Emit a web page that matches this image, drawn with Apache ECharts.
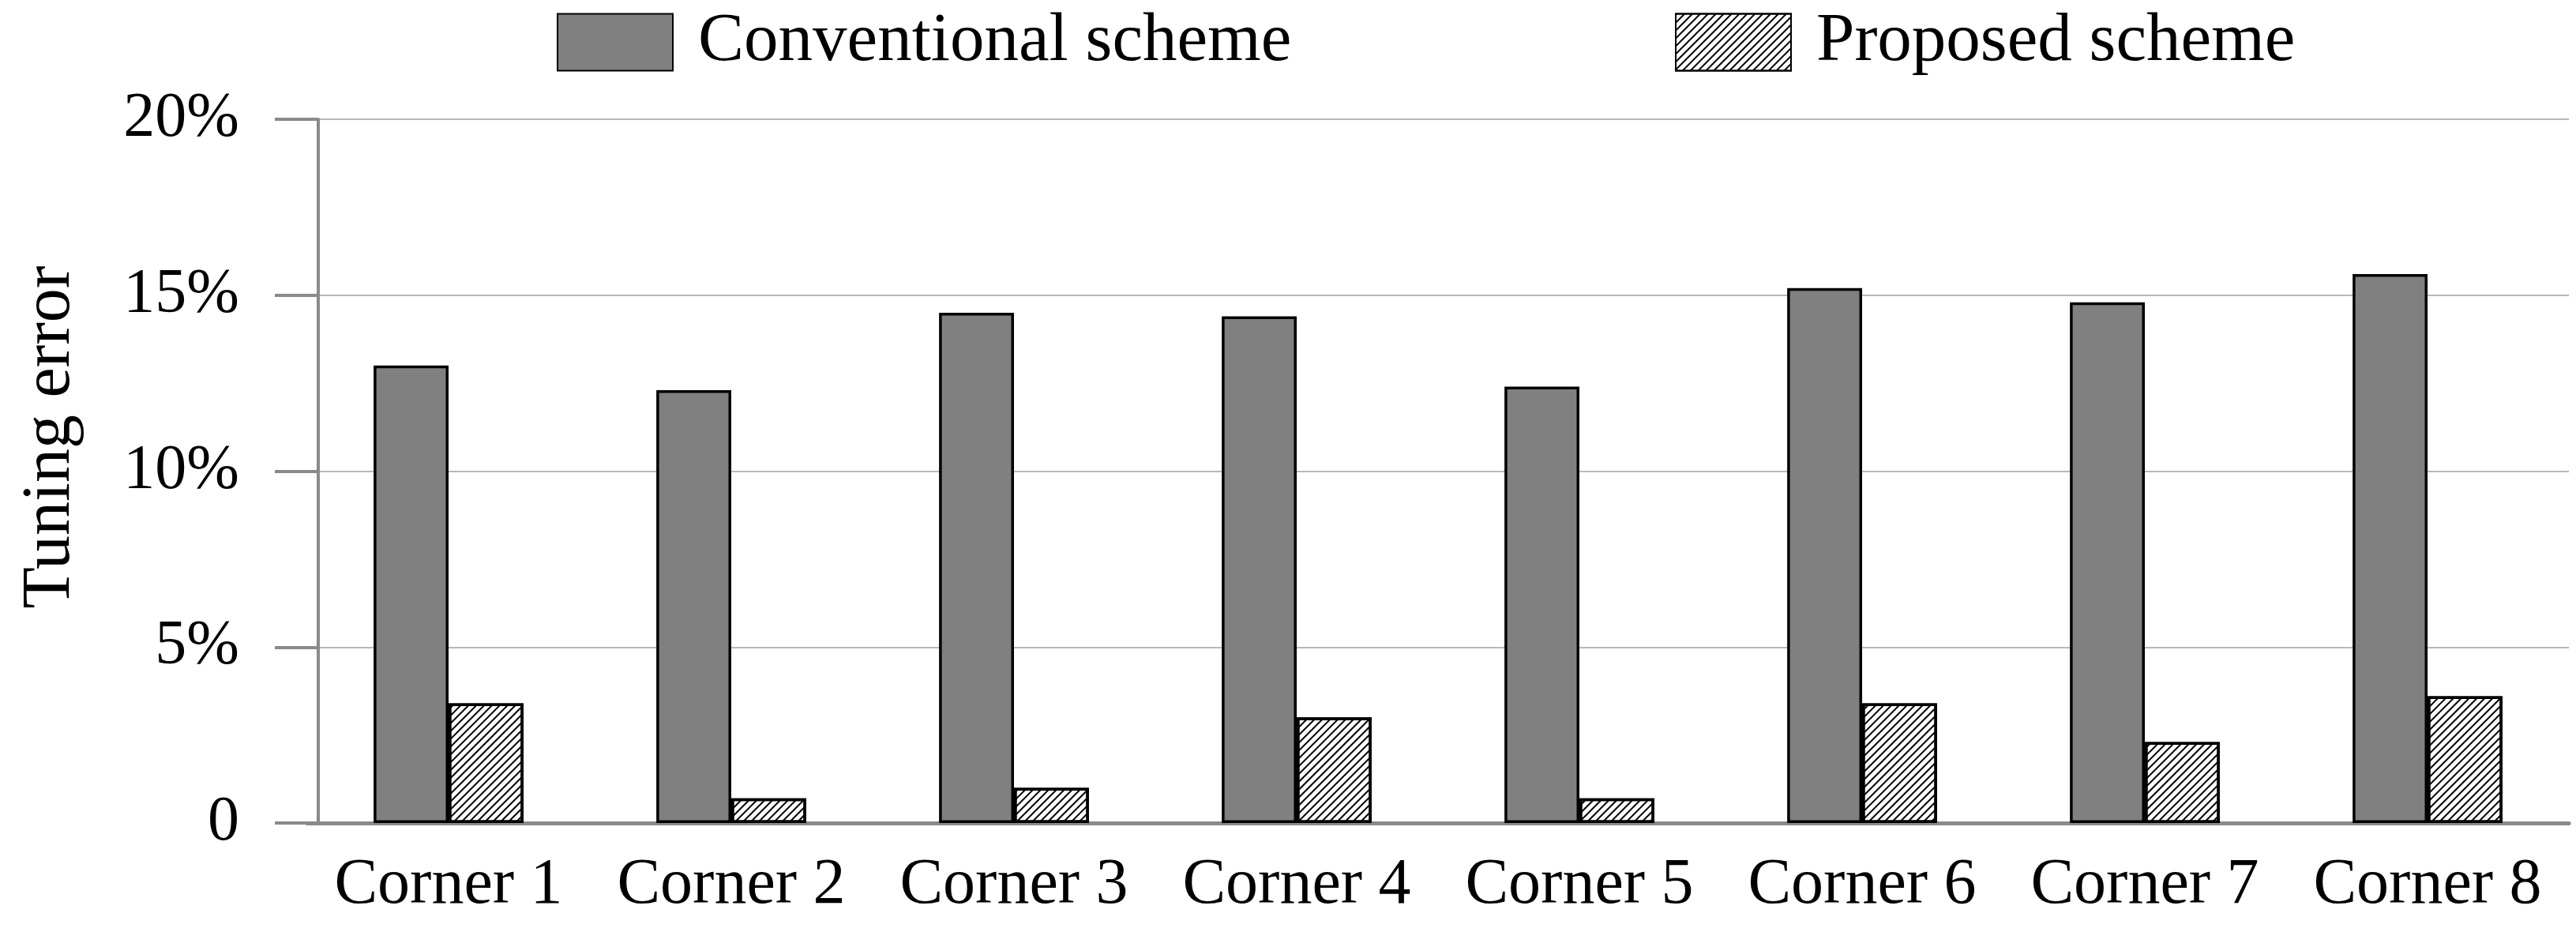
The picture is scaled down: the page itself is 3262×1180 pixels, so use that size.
<!DOCTYPE html>
<html>
<head>
<meta charset="utf-8">
<script src="https://cdn.jsdelivr.net/npm/echarts@6/dist/echarts.min.js"></script>
<style>
html,body{margin:0;padding:0;background:#fff;}
#chart{width:3262px;height:1180px;}
</style>
</head>
<body>
<div id="chart"></div>
<script>
const categories = ['Corner 1','Corner 2','Corner 3','Corner 4','Corner 5','Corner 6','Corner 7','Corner 8'];
const conventional = [13.0, 12.3, 14.5, 14.4, 12.4, 15.2, 14.8, 15.6];
const proposed = [3.4, 0.7, 1.0, 3.0, 0.7, 3.4, 2.3, 3.6];
const seriesNames = ['Conventional scheme', 'Proposed scheme'];
const yMin = 0, yMax = 20, yStep = 5;
const yTitle = 'Tuning error';

const FONT = '"Liberation Serif", "Times New Roman", serif';
const chart = echarts.init(document.getElementById('chart'), null, {renderer: 'canvas'});

const hatch = {
  symbol: 'rect',
  symbolSize: 1,
  color: '#000',
  dashArrayX: [1, 0],
  dashArrayY: [1.4, 4.3],
  rotation: -Math.PI / 4
};

const legendCommon = {
  top: 10,
  padding: 0,
  itemWidth: 146,
  itemHeight: 72,
  icon: 'rect',
  textStyle: {fontFamily: FONT, fontSize: 87, color: '#000', padding: [0, 0, 0, 27]},
  selectedMode: false
};

chart.setOption({
  backgroundColor: '#fff',
  animation: false,
  legend: [
    Object.assign({left: 705, data: [seriesNames[0]]}, legendCommon),
    Object.assign({left: 2121, data: [seriesNames[1]]}, legendCommon)
  ],
  grid: {left: 389, right: 9, top: 151, bottom: 138, containLabel: false},
  xAxis: {
    type: 'category',
    data: categories,
    axisLine: {show: true, lineStyle: {color: '#8a8a8a', width: 5}},
    axisTick: {show: false},
    axisLabel: {fontFamily: FONT, fontSize: 82, lineHeight: 82, color: '#000', margin: 38, interval: 0}
  },
  yAxis: {
    type: 'value',
    min: yMin, max: yMax, interval: yStep,
    offset: -14,
    name: yTitle,
    nameLocation: 'middle',
    nameRotate: 90,
    nameGap: 296,
    nameTextStyle: {fontFamily: FONT, fontSize: 86, lineHeight: 86, color: '#000', padding: [0, 0, 0, 86]},
    axisLine: {show: true, lineStyle: {color: '#8a8a8a', width: 4}},
    axisTick: {show: true, length: 55, lineStyle: {color: '#8a8a8a', width: 4}},
    splitLine: {show: true, lineStyle: {color: '#a0a0a0', width: 1.5}},
    axisLabel: {
      fontFamily: FONT, fontSize: 80, color: '#000', margin: 100,
      formatter: v => v === 0 ? '0' : v + '%'
    }
  },
  series: [
    {
      name: seriesNames[0],
      type: 'bar',
      data: conventional,
      barGap: '0%',
      barCategoryGap: '47%',
      itemStyle: {color: '#808080', borderColor: '#000', borderWidth: 3.5}
    },
    {
      name: seriesNames[1],
      type: 'bar',
      data: proposed,
      barGap: '0%',
      barCategoryGap: '47%',
      itemStyle: {color: '#fff', borderColor: '#000', borderWidth: 3.5, decal: hatch}
    }
  ]
});
</script>
</body>
</html>
